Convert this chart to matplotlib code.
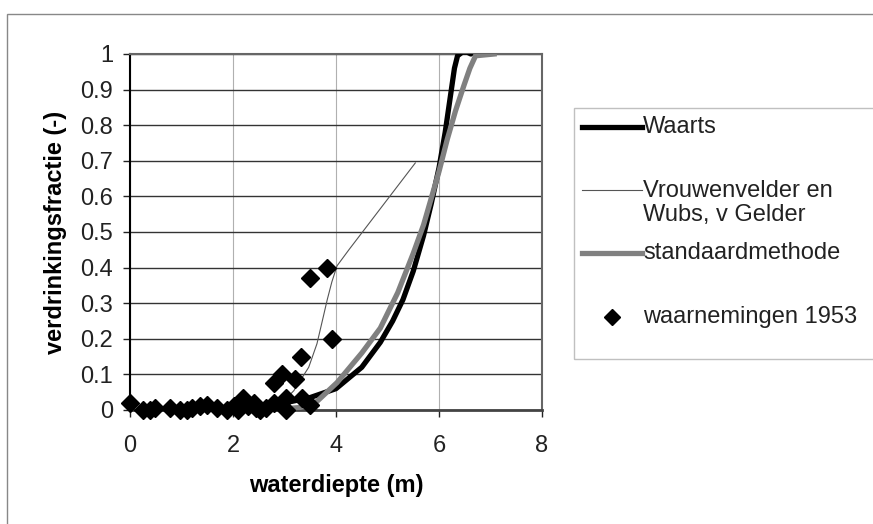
import matplotlib.pyplot as plt
from matplotlib.lines import Line2D
from matplotlib.patches import Rectangle

plt.rcParams['font.family'] = ['Liberation Sans', 'DejaVu Sans']

# waarnemingen 1953 (observations)
obs_x = [0.0, 0.26, 0.39, 0.49, 0.78, 0.97, 1.2, 1.36, 1.49, 1.69, 1.88, 2.01, 2.1,
         2.2, 2.3, 2.4, 2.53, 2.79, 2.79, 2.95, 3.02, 3.02, 3.21, 3.32, 3.34, 3.5,
         3.5, 3.83, 3.92, 2.45, 1.1, 2.65]
obs_y = [0.02, 0.0, 0.0, 0.005, 0.005, 0.0, 0.005, 0.01, 0.015, 0.005, 0.0, 0.01, 0.0,
         0.035, 0.01, 0.02, 0.0, 0.02, 0.077, 0.10, 0.0, 0.035, 0.087, 0.148, 0.035, 0.372,
         0.014, 0.40, 0.20, 0.005, 0.0, 0.005]

# Waarts
waarts_x = [3.0, 3.5, 4.0, 4.5, 4.86, 5.1, 5.3, 5.5, 5.7, 5.85, 6.0, 6.12, 6.22, 6.3,
            6.36, 6.45, 6.55, 6.62]
waarts_y = [0.02, 0.035, 0.06, 0.12, 0.19, 0.25, 0.31, 0.39, 0.49, 0.58, 0.68, 0.78,
            0.88, 0.96, 0.995, 1.005, 1.005, 1.0]

# Vrouwenvelder en Wubs, v Gelder
vrouw_x = [2.5, 2.92, 3.18, 3.47, 3.63, 3.75, 3.83, 3.92, 4.02, 4.25, 5.54]
vrouw_y = [0.0, 0.016, 0.054, 0.12, 0.186, 0.26, 0.31, 0.36, 0.405, 0.45, 0.694]

# standaardmethode
std_x = [2.7, 3.3, 3.6, 4.02, 4.5, 4.86, 5.2, 5.5, 5.7, 5.84, 6.0, 6.16, 6.32, 6.48,
         6.6, 6.71, 7.07]
std_y = [0.0, 0.007, 0.02, 0.077, 0.16, 0.23, 0.33, 0.44, 0.52, 0.59, 0.67, 0.76, 0.84,
         0.91, 0.96, 0.995, 1.0]

labels = ['Waarts', 'Vrouwenvelder en\nWubs, v Gelder', 'standaardmethode',
          'waarnemingen 1953']

W, H = 873, 524
fig = plt.figure(figsize=(W / 100, H / 100), dpi=100)
ax = fig.add_axes([130 / W, 1 - 410 / H, 412 / W, 356 / H])

ax.plot(waarts_x, waarts_y, color='black', lw=3.8, solid_capstyle='round',
        solid_joinstyle='round', zorder=3)
ax.plot(vrouw_x, vrouw_y, color='#555555', lw=0.8, zorder=3)
ax.plot(std_x, std_y, color='#808080', lw=3.8, solid_joinstyle='round', zorder=3)
ax.plot(obs_x, obs_y, 'D', color='black', ms=9, ls='none', zorder=4, clip_on=False)

ax.set_xlim(0, 8)
ax.set_ylim(0, 1)
ax.set_xticks([0, 2, 4, 6, 8])
ax.set_yticks([i / 10 for i in range(11)])
ax.set_yticklabels(['0'] + ['0.%d' % i for i in range(1, 10)] + ['1'])
ax.tick_params(labelsize=17, length=5, width=1, colors='#222222')
ax.tick_params(axis='x', pad=13)
ax.tick_params(axis='y', pad=7)
ax.grid(axis='y', color='#333333', lw=1)
ax.grid(axis='x', color='#b0b0b0', lw=0.8)
ax.set_axisbelow(True)
for s in ['top', 'right']:
    ax.spines[s].set_color('#666666')
    ax.spines[s].set_linewidth(1.5)
ax.spines['left'].set_linewidth(1.5)
ax.spines['bottom'].set_linewidth(2)
ax.spines['bottom'].set_color('#444444')

ax.set_xlabel('waterdiepte (m)', fontsize=17, fontweight='bold', labelpad=12)
ax.set_ylabel('verdrinkingsfractie (-)', fontsize=17, fontweight='bold', labelpad=10)

# legend box, drawn by hand (it runs off the right edge in the original)
def fx(px):
    return px / W

def fy(py):
    return 1 - py / H

fig.add_artist(Rectangle((fx(574), fy(359)), fx(320), 251 / H, transform=fig.transFigure,
                         fill=False, edgecolor='#c0c0c0', lw=1))
fig.add_artist(Line2D([fx(582), fx(642)], [fy(127)] * 2, color='black', lw=3.8,
                      transform=fig.transFigure))
fig.add_artist(Line2D([fx(582), fx(642)], [fy(190)] * 2, color='#555555', lw=0.8,
                      transform=fig.transFigure))
fig.add_artist(Line2D([fx(582), fx(642)], [fy(253)] * 2, color='#808080', lw=3.8,
                      transform=fig.transFigure))
fig.add_artist(Line2D([fx(612)], [fy(317)], marker='D', color='black', ms=8, ls='none',
                      transform=fig.transFigure))
text_y = [127, 203, 253, 317]
for lab, ty in zip(labels, text_y):
    fig.text(fx(643), fy(ty), lab, fontsize=17, va='center', ha='left',
             color='#222222', linespacing=1.15)

# outer chart frame
fig.add_artist(Rectangle((fx(7), -0.1), 1.2, 1.1 - 14 / H, transform=fig.transFigure,
                         fill=False, edgecolor='#888888', lw=1))

fig.savefig('out.png', dpi=100)
